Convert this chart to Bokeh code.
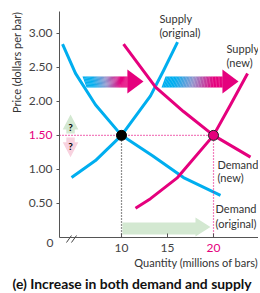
import numpy as np
from bokeh.plotting import figure
from bokeh.models import Range1d, Label, FixedTicker, LinearAxis
from bokeh.embed import file_html
from bokeh.resources import INLINE

# ---------------- data ----------------
supply_orig_q = [4.57, 7.17, 10.0, 13.15, 14.6, 16.09]
supply_orig_p = [0.88, 1.13, 1.50, 2.08, 2.46, 2.87]
demand_orig_q = [3.59, 5.0, 7.17, 10.0, 13.37, 16.74, 20.76]
demand_orig_p = [2.84, 2.41, 1.95, 1.50, 1.20, 0.88, 0.62]
supply_new_q = [11.52, 13.15, 16.09, 20.0, 21.85, 23.7]
supply_new_p = [0.43, 0.57, 0.88, 1.50, 1.95, 2.41]
demand_new_q = [10.22, 13.7, 16.74, 20.0, 24.02]
demand_new_p = [2.84, 2.21, 1.85, 1.50, 1.18]
eq_orig_q, eq_orig_p = [10.0], [1.50]
eq_new_q, eq_new_p = [20.0], [1.50]
x_ticks = [10, 15, 20]
x_tick_labels = ["10", "15", "20"]
y_ticks = [0.5, 1.0, 1.5, 2.0, 2.5, 3.0]
y_tick_labels = ["0.50", "1.00", "1.50", "2.00", "2.50", "3.00"]
x_title = "Quantity (millions of bars)"
y_title = "Price (dollars per bar)"
chart_title = "(e) Increase in both demand and supply"

# ---------------- style ----------------
BLUE = "#00aeef"
PINK = "#e5007d"
TXT = "#333333"
TICK_TXT = "#444444"
AX = "#555555"
FONT = "Lato"
GREEN_L = "#d3e8d1"
PINK_L = "#f8d2df"
# axis extents (data units) and whole-canvas view range
AX_X0, AX_X1 = 3.26, 24.89
AX_Y0, AX_Y1 = 0.0, 3.32

p = figure(width=258, height=292, output_backend="svg", toolbar_location=None,
           x_range=Range1d(-3.153, 24.89), y_range=Range1d(-0.808, 3.481),
           x_axis_location=None, y_axis_location=None,
           min_border_left=0, min_border_right=0, min_border_top=0,
           min_border_bottom=0)
p.grid.visible = False
p.outline_line_color = None


def make_axis(side, loc, ticks, labels, color=TICK_TXT, line=True, bounds=None):
    ax = LinearAxis(fixed_location=loc, ticker=FixedTicker(ticks=ticks),
                    major_label_overrides=dict(zip(ticks, labels)))
    if bounds is not None:
        ax.bounds = bounds
    ax.axis_line_color = AX if line else None
    ax.major_tick_line_color = AX
    ax.minor_tick_line_color = None
    ax.major_label_text_font = FONT
    ax.major_label_text_font_size = "12px"
    ax.major_label_text_color = color
    if side == "below":
        ax.major_tick_in, ax.major_tick_out, ax.major_label_standoff = 4, 0, 7
    else:
        ax.major_tick_in, ax.major_tick_out, ax.major_label_standoff = 0, 3, 4
    p.add_layout(ax, side)
    return ax


# grey axes
make_axis("below", AX_Y0, x_ticks[:2], x_tick_labels[:2], bounds=(AX_X0, AX_X1))
make_axis("left", AX_X0, [t for t in y_ticks if t != 1.5],
          [l for t, l in zip(y_ticks, y_tick_labels) if t != 1.5], bounds=(AX_Y0, AX_Y1))
# pink labels of the new equilibrium
make_axis("below", AX_Y0, x_ticks[2:], x_tick_labels[2:], color=PINK, line=False)
make_axis("left", AX_X0, [1.5], [y_tick_labels[2]], color=PINK, line=False)


def lerp_col(t):
    stops = [(0.0, (0, 174, 239)), (0.18, (0, 174, 239)), (0.5, (150, 150, 205)),
             (0.85, (229, 0, 125)), (1.0, (229, 0, 125))]
    for (t0, c0), (t1, c1) in zip(stops[:-1], stops[1:]):
        if t <= t1:
            f = 0 if t1 == t0 else (t - t0) / (t1 - t0)
            c = [int(round(a + (b - a) * f)) for a, b in zip(c0, c1)]
            return "#%02x%02x%02x" % tuple(c)
    return PINK


def grad_arrow(xl_top, xl_bot, x_base, x_tip, y_bot, y_top, h_bot, h_top, n=40):
    xs, ys, cs = [], [], []
    for i in range(n):
        t0, t1 = i / n, (i + 1) / n
        a0 = xl_top + (x_base - xl_top) * t0
        a1 = xl_top + (x_base - xl_top) * t1 + 0.02
        b0 = xl_bot + (x_base - xl_bot) * t0
        b1 = xl_bot + (x_base - xl_bot) * t1 + 0.02
        xs.append([a0, a1, b1, b0])
        ys.append([y_top, y_top, y_bot, y_bot])
        cs.append(lerp_col((t0 + t1) / 2))
    p.patches(xs, ys, fill_color=cs, line_color=None)
    p.patch([x_base - 0.01, x_tip, x_base - 0.01], [h_top, (h_top + h_bot) / 2, h_bot],
            fill_color=PINK, line_color=None)


# gradient arrows (shift of supply)
grad_arrow(5.76, 6.20, 10.65, 12.39, 2.203, 2.365, 2.115, 2.468)
grad_arrow(14.78, 14.35, 20.98, 22.72, 2.203, 2.365, 2.115, 2.468)

# green quantity arrow
p.patch([10.1, 18.04, 18.04, 19.67, 18.04, 18.04, 10.1],
        [0.044, 0.044, 0.014, 0.154, 0.293, 0.22, 0.22],
        fill_color=GREEN_L, line_color=None)

# price up / down arrows with question marks
xc = 4.46
p.patch([xc - 0.46, xc - 0.46, xc - 0.85, xc, xc + 0.85, xc + 0.46, xc + 0.46],
        [1.527, 1.586, 1.586, 1.807, 1.586, 1.586, 1.527],
        fill_color=GREEN_L, line_color=None)
p.patch([xc - 0.46, xc - 0.46, xc - 0.85, xc, xc + 0.85, xc + 0.46, xc + 0.46],
        [1.47, 1.40, 1.40, 1.18, 1.40, 1.40, 1.47],
        fill_color=PINK_L, line_color=None)

# curves
p.line(demand_orig_q, demand_orig_p, line_color=BLUE, line_width=3, line_join="round")
p.line(supply_orig_q, supply_orig_p, line_color=BLUE, line_width=3, line_join="round")
p.line(demand_new_q, demand_new_p, line_color=PINK, line_width=3, line_join="round")
p.line(supply_new_q, supply_new_p, line_color=PINK, line_width=3, line_join="round")

# dotted guide lines
p.line([eq_orig_q[0], eq_orig_q[0]], [0, eq_orig_p[0]], line_color="#222222",
       line_width=1.2, line_dash="1 2")
p.line([AX_X0, eq_new_q[0]], [eq_new_p[0], eq_new_p[0]], line_color=PINK,
       line_width=1.2, line_dash="1 2")
p.line([eq_new_q[0], eq_new_q[0]], [0, eq_new_p[0]], line_color=PINK,
       line_width=1.2, line_dash="1 2")

# equilibrium points
p.scatter(eq_orig_q, eq_orig_p, size=10, fill_color="black", line_color="black")
p.scatter(eq_new_q, eq_new_p, size=10, fill_color=PINK, line_color="#222222", line_width=1)

# axis break marks
p.segment(x0=[4.02, 4.56], y0=[-0.074, -0.074], x1=[4.56, 5.11], y1=[0.029, 0.029],
          line_color="#444444", line_width=1)


def lab(x, y, text, size="11px", color=TXT, align="left", baseline="middle",
        style="normal", angle=0):
    p.add_layout(Label(x=x, y=y, text=text, text_font=FONT, text_font_size=size,
                       text_color=color, text_align=align, text_baseline=baseline,
                       text_font_style=style, angle=angle))


lab(xc, 1.63, "?", size="10px", color="black", align="center", style="bold")
lab(xc, 1.35, "?", size="10px", color="black", align="center", style="bold")

lab(14.13, 3.22, "Supply")
lab(14.13, 3.01, "(original)")
lab(21.41, 2.78, "Supply")
lab(21.41, 2.57, "(new)")
lab(20.43, 1.07, "Demand")
lab(20.43, 0.88, "(new)")
lab(20.22, 0.43, "Demand")
lab(20.22, 0.21, "(original)")

lab(2.6, -0.088, "0", size="12px", color=TICK_TXT, align="right")
lab(24.85, -0.368, x_title, align="right")
lab(-1.41, 2.571, y_title, align="center", angle=np.pi / 2)
lab(-1.85, -0.676, chart_title, size="13.9px", color="#111111", style="bold")

open("out.html", "w").write(file_html(p, INLINE))
